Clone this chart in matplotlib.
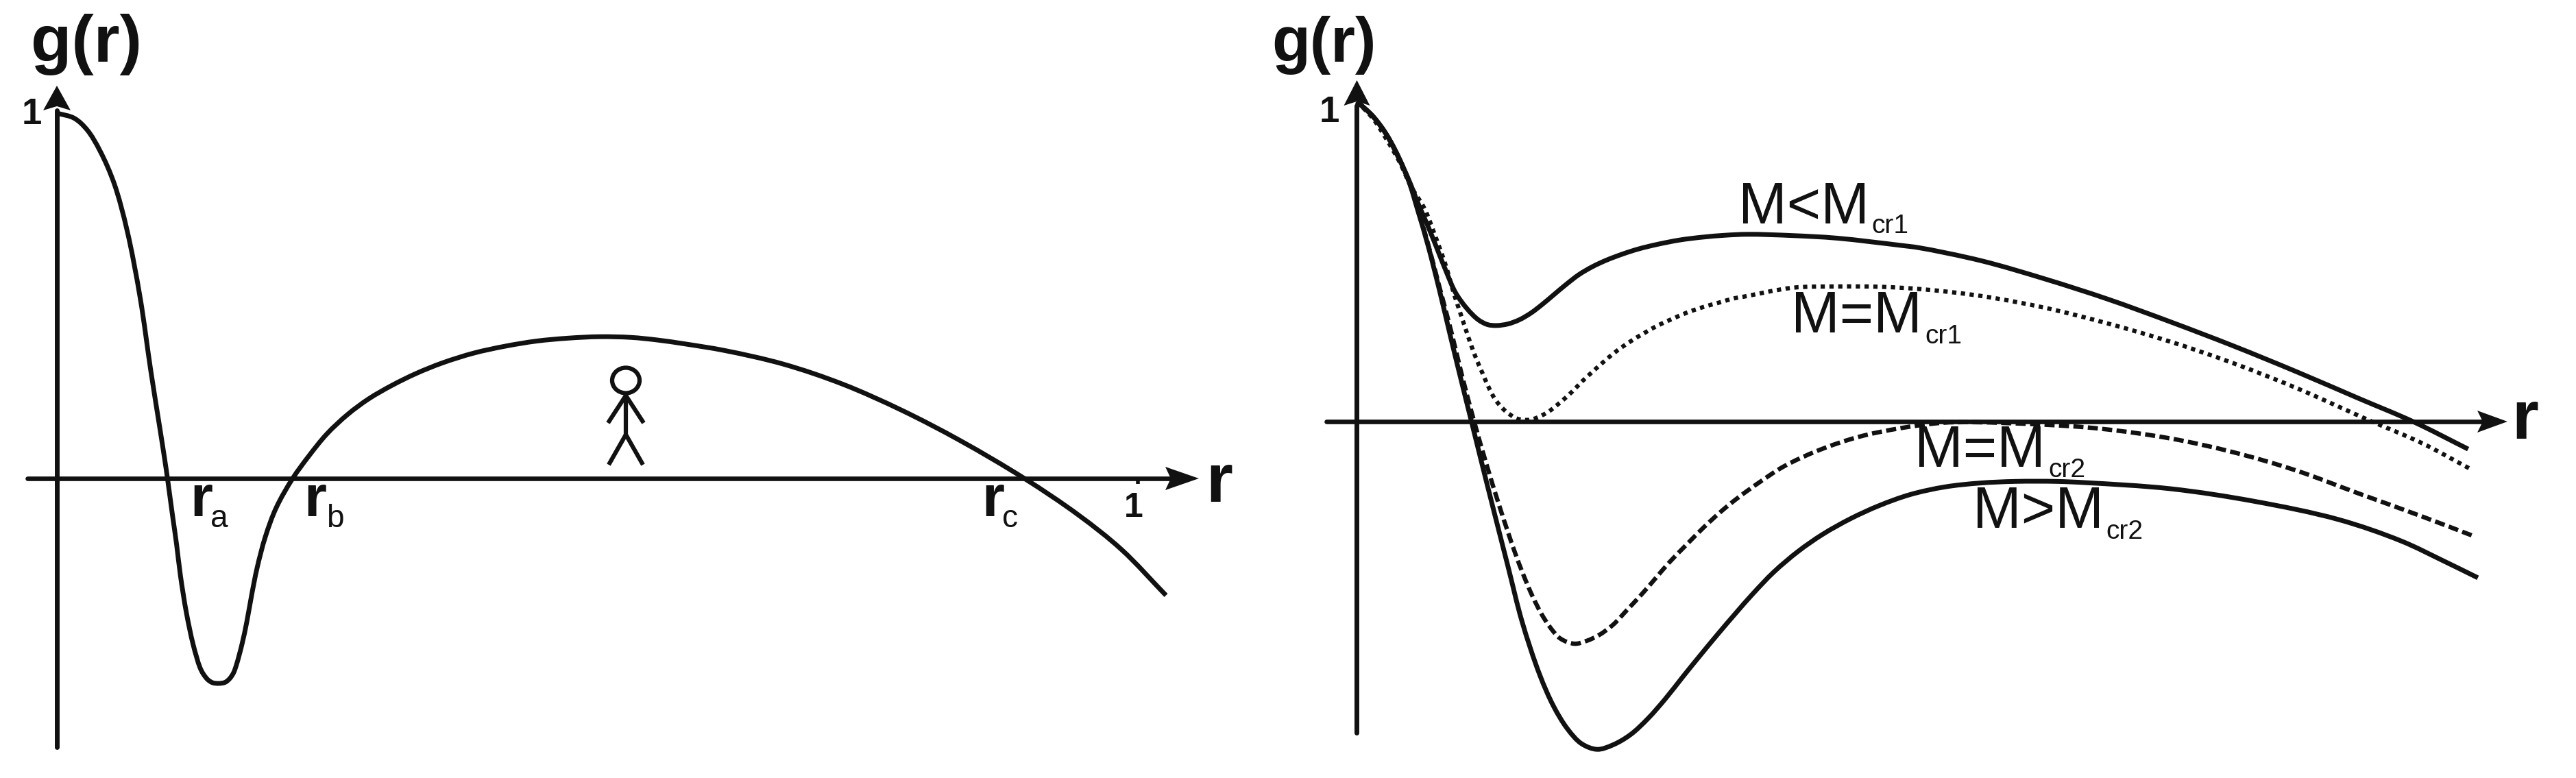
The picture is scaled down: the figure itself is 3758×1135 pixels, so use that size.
import matplotlib
matplotlib.use("Agg")
import matplotlib.pyplot as plt
import numpy as np
from matplotlib.patches import Ellipse, PathPatch, Polygon
from matplotlib.path import Path

plt.rcParams['font.family'] = ['Liberation Sans', 'DejaVu Sans']

W, H = 3758, 1135
INK = '#111111'

# -----------------------------
# Curves (r, g)
# -----------------------------
left_r = [0, .016, .028, .040, .053, .065, .077, .087, .095, .1000, .1023, .1068, .1107, .1143, .1197, .1260, .1323,
          .1354, .1397, .1440, .1498, .1556, .1598, .1634, .1661, .1712, .1757, .1801, .1852, .1928, .2029, .2181,
          .2327, .2495, .2689, .2885, .3101, .3321, .3564, .3855, .4147, .4437, .4728, .5019, .5311, .5553, .5815,
          .618, .672, .727, .782, .836, .895, .945, .985, 1.026]
left_g = [1.0, .986, .954, .896, .807, .678, .495, .292, .142, .047, 0, -.098, -.180, -.266, -.366, -.454, -.517,
          -.535, -.551, -.559, -.561, -.558, -.548, -.532, -.510, -.454, -.392, -.320, -.245, -.160, -.080, 0,
          .060, .121, .175, .218, .255, .287, .316, .343, .362, .376, .384, .388, .386, .379, .368,
          .350, .313, .258, .186, .103, 0, -.100, -.195, -.320]

lt_r = [0, .015, .027, .039, .048, .0574, .0658, .0743, .0827, .0912, .1018, .1123, .1208, .1292, .1398, .1503, .1610,
        .1715, .1821, .1927, .2054, .2180, .2307, .2455, .2603, .2772, .2984, .3195, .3406, .3618, .403, .444, .504,
        .520, .578, .637, .695, .753, .811, .869, .927, .977, 1.028]
lt_g = [1.0, .953, .899, .821, .755, .675, .610, .539, .468, .403, .353, .318, .303, .300, .305, .318, .339,
        .366, .396, .426, .459, .484, .504, .523, .539, .553, .567, .576, .582, .585, .581, .573, .550,
        .543, .502, .445, .382, .311, .236, .156, .072, 0, -.086]

eq1_r = [0, .015, .027, .039, .050, .0627, .0722, .0817, .0902, .0954, .1007, .1060, .1113, .1166, .1219, .1282, .1377,
         .1483, .1568, .1642, .1768, .1885, .1990, .2085, .2191, .2297, .2413, .2529, .2656, .2783, .2920, .3058, .3206,
         .3344, .3491, .3576, .403, .444, .484, .524, .578, .637, .695, .753, .811, .869, .927, .939, .985, 1.030]
eq1_g = [1.0, .946, .884, .814, .735, .664, .582, .4925, .395, .342, .288, .2355, .189, .148, .107, .068, .032,
         .009, .005, .009, .030, .061, .093, .126, .159, .191, .223, .250, .276, .300, .321, .341, .358,
         .371, .385, .390, .418, .422, .421, .413, .392, .355, .306, .249, .182, .105, .018, 0, -.067, -.148]

eq2_r = [0, .015, .031, .047, .0563, .0658, .0764, .0870, .0975, .108, .120, .132, .1398, .1463, .1544, .1625, .1706,
         .1786, .1883, .2013, .2126, .2240, .2369, .2498, .2628, .2757, .2887, .3048, .3210, .3372, .3533, .3727,
         .395, .427, .464, .504, .541, .571, .637, .687, .753, .811, .869, .927, .985, 1.034]
eq2_g = [1.0, .953, .876, .760, .665, .555, .420, .285, .140, .006, -.135, -.266, -.346, -.410, -.482, -.546, -.600,
         -.642, -.678, -.694, -.685, -.667, -.635, -.589, -.542, -.492, -.441, -.385, -.330, -.280, -.236, -.189,
         -.140, -.090, -.048, -.020, -.004, -.002, -.010, -.022, -.053, -.096, -.153, -.225, -.296, -.359]

gt_r = [0, .015, .031, .047, .0563, .0658, .0764, .0870, .0975, .1060, .120, .1398, .1528, .1689, .1819, .1948, .2077,
        .2223, .2369, .2531, .2692, .2854, .3016, .3177, .3339, .3501, .3663, .3857, .4084, .4310, .4569, .4828,
        .5119, .5443, .5766, .6089, .6470, .675, .753, .830, .908, .966, 1.005, 1.037]
gt_g = [1.0, .953, .876, .760, .660, .550, .410, .260, .115, 0, -.190, -.453, -.625, -.789, -.889, -.960, -1.006,
        -1.024, -1.010, -.978, -.928, -.866, -.797, -.730, -.664, -.600, -.538, -.470, -.405, -.352, -.303, -.263,
        -.228, -.204, -.192, -.187, -.187, -.191, -.210, -.249, -.306, -.373, -.435, -.488]

# labels, all in image pixels (x, baseline y)
left_marks = [(277, 753, 'a', 307, 769), (443, 753, 'b', 476, 769), (1432, 753, 'c', 1462, 769)]
right_marks = [(2536, 326, 'M<M', 2730, 340, 'cr1'), (2613, 485, 'M=M', 2808, 501, 'cr1'),
               (2793, 681, 'M=M', 2988, 696, 'cr2'), (2878, 770, 'M>M', 3072, 786, 'cr2')]


def curve_axes(x0, x1, ox, oy, ux, uy):
    # axes over the pixel span x0..x1, r=0,g=0 at (ox,oy), ux,uy pixels per unit
    ax = fig.add_axes([x0 / W, 0, (x1 - x0) / W, 1])
    ax.set_xlim((x0 - ox) / ux, (x1 - ox) / ux)
    ax.set_ylim((oy - H) / uy, oy / uy)
    ax.axis('off')
    ax.patch.set_alpha(0)
    return ax


def bezier_through(r, g, ux, uy):
    # bezier path through the read points, so the line has no corners
    p = np.column_stack([r, g])
    d = np.hypot(np.diff(p[:, 0]) * ux, np.diff(p[:, 1]) * uy) ** 0.5
    m = np.zeros_like(p)
    seg = np.diff(p, axis=0) / d[:, None]
    m[1:-1] = (seg[:-1] * d[1:, None] + seg[1:] * d[:-1, None]) / (d[:-1, None] + d[1:, None])
    m[0], m[-1] = seg[0], seg[-1]
    verts = [p[0]]
    for i in range(len(p) - 1):
        verts += [p[i] + m[i] * d[i] / 3, p[i + 1] - m[i + 1] * d[i] / 3, p[i + 1]]
    codes = [Path.MOVETO] + [Path.CURVE4] * (len(verts) - 1)
    return Path(verts, codes)


def draw_curve(ax, r, g, ux, uy, lw, ls='-'):
    ax.add_patch(PathPatch(bezier_through(r, g, ux, uy), fc='none', ec=INK, lw=lw, ls=ls,
                           capstyle='butt', joinstyle='round'))


fig = plt.figure(figsize=(W / 100, H / 100), dpi=100, facecolor='white')

# overlay in pixels for axis lines, arrow heads, labels and the little man
px = fig.add_axes([0, 0, 1, 1])
px.set_xlim(0, W)
px.set_ylim(H, 0)
px.axis('off')

ax1 = curve_axes(0, 1880, 83, 698, 1577, 533)
ax2 = curve_axes(1880, W, 1979.5, 615, 1577, 467)

draw_curve(ax1, left_r, left_g, 1577, 533, 5)
draw_curve(ax2, lt_r, lt_g, 1577, 467, 5)
draw_curve(ax2, gt_r, gt_g, 1577, 467, 5)
draw_curve(ax2, eq1_r, eq1_g, 1577, 467, 4.5, ls=(0, (1, 1.05)))
draw_curve(ax2, eq2_r, eq2_g, 1577, 467, 4.6, ls=(0, (2.3, 1)))


def axes_lines(xa, ya, xstart, xtip, xback, xhalf, ybottom, ytip, yback, yhalf):
    px.plot([xstart, xback + 8], [ya, ya], color=INK, lw=4.8, solid_capstyle='round')
    px.plot([xa, xa], [ybottom, yback], color=INK, lw=5, solid_capstyle='round')
    px.add_patch(Polygon([(xtip, ya), (xback, ya - xhalf), (xback + 8, ya), (xback, ya + xhalf)], fc=INK, ec='none'))
    px.add_patch(Polygon([(xa, ytip), (xa - yhalf, yback), (xa, yback - 6), (xa + yhalf, yback)], fc=INK, ec='none'))


axes_lines(83, 698, 40, 1749, 1700, 17, 1090, 125, 161, 20)
axes_lines(1979.5, 615, 1935, 3658, 3614, 16, 1069, 117, 154, 19)

# tick at r=1
px.plot([1660, 1660], [698, 706], color=INK, lw=4, solid_capstyle='butt')

# g(r), r and 1 labels
bold = dict(color=INK, fontweight='bold', va='baseline', ha='left')
plain = dict(color=INK, va='baseline', ha='left')
px.text(45, 90, 'g(r)', fontsize=70, **bold)
px.text(1855, 90, 'g(r)', fontsize=66, **bold)
px.text(1759, 732, 'r', fontsize=72, **bold)
px.text(3664, 640, 'r', fontsize=72, **bold)
px.text(32, 181, '1', fontsize=38, **bold)
px.text(1925, 178, '1', fontsize=38, **bold)
px.text(1640, 754, '1', fontsize=36, **bold)

for x, y, sub, xs, ys in left_marks:
    px.text(x, y, 'r', fontsize=61, **bold)
    px.text(xs, ys, sub, fontsize=33, **plain)

for x, y, s, xs, ys, sub in right_marks:
    px.text(x, y, s, fontsize=61, **plain)
    px.text(xs, ys, sub, fontsize=28, **plain)

# little man
man = dict(color=INK, lw=4.5, solid_capstyle='butt', solid_joinstyle='miter')
px.add_patch(Ellipse((913, 555), 40, 37, fc='white', ec=INK, lw=4.5))
px.plot([913, 913], [574, 636], **man)
px.plot([887, 913, 939], [617, 577, 617], **man)
px.plot([888, 913, 938], [678, 634, 678], **man)

fig.savefig('out.png', dpi=100, facecolor='white')
